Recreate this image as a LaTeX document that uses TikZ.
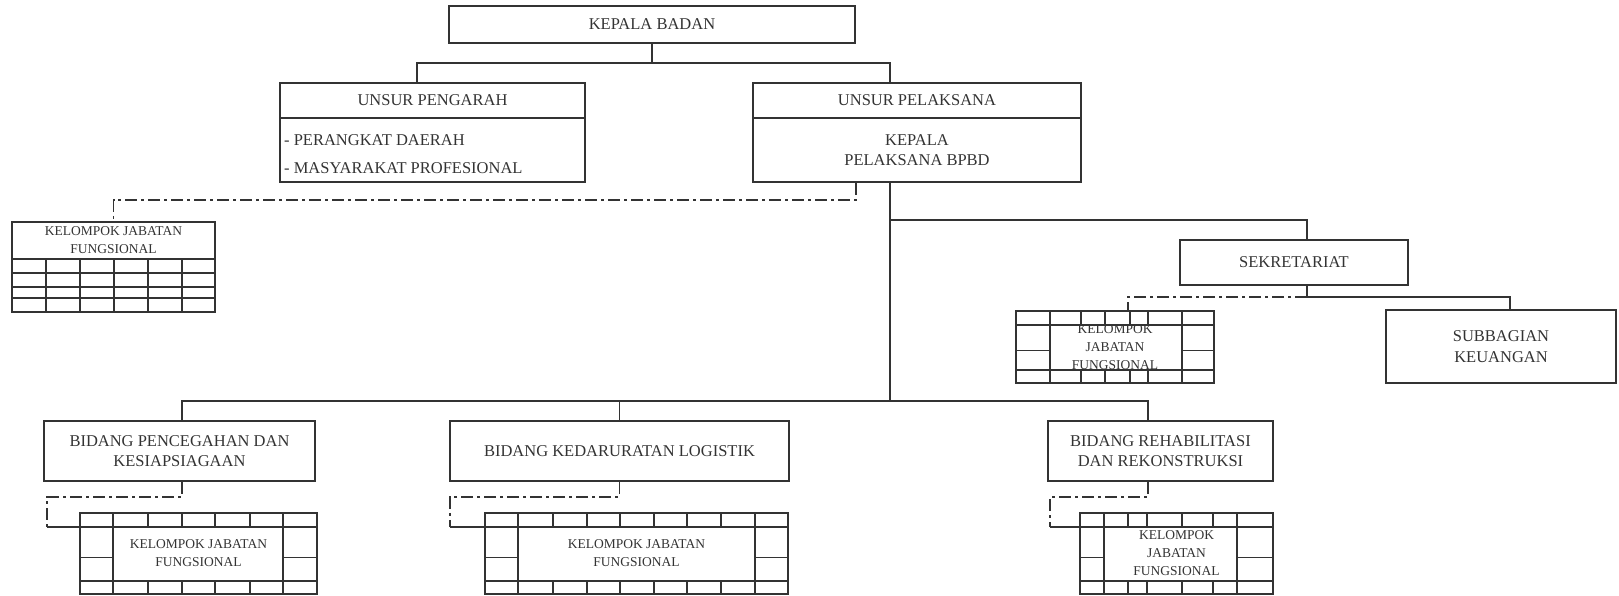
\documentclass[tikz,border=0pt]{standalone}
\usepackage{fontspec}
\setmainfont{Liberation Serif}
\usetikzlibrary{positioning}

\colorlet{ink}{black!80}

% KELOMPOK JABATAN FUNGSIONAL framed by a row of cells
% #1 left, #2 right, #3 top, #4 bottom, #5 inner left, #6 inner right,
% #7 cell lines of top and bottom rows, #8 node name, #9 text
\newcommand{\kjfgrid}[9]{%
  \pgfmathsetmacro{\kjfrowa}{#3+14}%
  \pgfmathsetmacro{\kjfrowb}{#4-13}%
  \pgfmathsetmacro{\kjfrowm}{\kjfrowb-0.43*(\kjfrowb-\kjfrowa)}%
  \draw[grid] (#1,-#3) rectangle (#2,-#4);
  \draw[grid] (#1,-\kjfrowa) -- (#2,-\kjfrowa) (#1,-\kjfrowb) -- (#2,-\kjfrowb);
  \draw[grid] (#5,-#3) -- (#5,-#4) (#6,-#3) -- (#6,-#4);
  \draw[grid] (#1,-\kjfrowm) -- (#5,-\kjfrowm) (#6,-\kjfrowm) -- (#2,-\kjfrowm);
  \foreach \cx in {#7}
    \draw[grid] (\cx,-#3) -- (\cx,-\kjfrowa) (\cx,-\kjfrowb) -- (\cx,-#4);
  \node[kjf, minimum width=#2-#1, minimum height=#4-#3] (#8)
    at ({(#1+#2)/2},{-(#3+#4)/2}) {#9};
}

\begin{document}
\begin{tikzpicture}[x=1pt, y=1pt,
    unit/.style={draw=ink, line width=2.8pt, inner sep=0pt, align=center,
      text=ink, font=\fontsize{16.5}{20.5}\selectfont},
    conn/.style={draw=ink, line width=1.5pt},
    dashconn/.style={draw=ink, line width=1.5pt, dash pattern=on 12pt off 4pt on 3pt off 4pt},
    grid/.style={draw=ink, line width=1.3pt},
    kjf/.style={inner sep=0pt, outer sep=0pt, align=center, text=ink,
      font=\fontsize{13.5}{18}\selectfont}]
  \useasboundingbox (0,0) rectangle (1619,-596);

  % kepala dan unsur
  \node[unit, minimum width=406, minimum height=37] (kb) at (652,-24.5) {KEPALA BADAN};
  \node[unit, minimum width=305, minimum height=35] (ug) at (432.5,-100.5) {UNSUR PENGARAH};
  \node[unit, minimum width=305, minimum height=64, below=-2.8pt of ug] (ugb) {};
  \node[anchor=north west, inner sep=0pt, align=left, text=ink, font=\fontsize{16.5}{28}\selectfont]
    (ugt) at ([xshift=5.4pt, yshift=-18.1pt]ugb.north west) {- PERANGKAT DAERAH\\- MASYARAKAT PROFESIONAL};
  \node[unit, minimum width=328, minimum height=35] (ul) at (917,-100.5) {UNSUR PELAKSANA};
  \node[unit, minimum width=328, minimum height=64, below=-2.8pt of ul] (ulb) {KEPALA\\PELAKSANA BPBD};

  \node[kjf, draw=ink, line width=1.3pt, minimum width=203, minimum height=37] (kjfa)
    at (113.5,-240.5) {KELOMPOK JABATAN\\FUNGSIONAL};
  \draw[grid] (kjfa.south west) rectangle (215,-312);
  \foreach \ry in {273,287,298} \draw[grid] (12,-\ry) -- (215,-\ry);
  \foreach \cx in {46,80,114,148,182} \draw[grid] (\cx,-259) -- (\cx,-312);

  % sekretariat
  \node[unit, minimum width=228, minimum height=45] (sk) at (1294,-262.5) {SEKRETARIAT};
  \node[unit, minimum width=230, minimum height=73] (sb) at (1501,-346.5) {SUBBAGIAN\\KEUANGAN};
  \kjfgrid{1016}{1214}{311}{383}{1050}{1182}{1081,1105,1130,1148}{kjfs}{KELOMPOK\\JABATAN\\FUNGSIONAL}

  % bidang
  \node[unit, minimum width=271, minimum height=60] (bp) at (179.5,-451) {BIDANG PENCEGAHAN DAN\\KESIAPSIAGAAN};
  \node[unit, minimum width=339, minimum height=60] (bk) at (619.5,-451) {BIDANG KEDARURATAN LOGISTIK};
  \node[unit, minimum width=225, minimum height=60] (br) at (1160.5,-451) {BIDANG REHABILITASI\\DAN REKONSTRUKSI};
  \kjfgrid{80}{317}{513}{594}{113}{283}{148,182,215,250}{kjfp}{KELOMPOK JABATAN\\FUNGSIONAL}
  \kjfgrid{485}{788}{513}{594}{518}{755}{553,587,620,654,687,721}{kjfk}{KELOMPOK JABATAN\\FUNGSIONAL}
  \kjfgrid{1080}{1273}{513}{594}{1104}{1237}{1128,1147,1182,1213}{kjfr}{KELOMPOK\\JABATAN\\FUNGSIONAL}

  % garis komando
  \draw[conn] (kb.south) -- ++(0,-18.6) -| ([xshift=-15.5pt]ug.north);
  \draw[conn] (kb.south) ++(0,-18.6) -| ([xshift=-27pt]ul.north);
  \coordinate (hub) at (890,-401);
  \draw[conn] ([xshift=-27pt]ulb.south) -- (hub);
  \draw[conn] ([xshift=-27pt]ulb.south) ++(0,-36.6) -| ([xshift=13pt]sk.north);
  \draw[conn] (hub) -| ([xshift=2.5pt]bp.north);
  \draw[conn] (hub) -| (bk.north);
  \draw[conn] (hub) -| ([xshift=-12.5pt]br.north);
  \draw[conn] ([xshift=13pt]sk.south) -- ++(0,-10.6) -| ([xshift=9pt]sb.north);

  % garis koordinasi
  \draw[dashconn] ([xshift=-61pt]ulb.south) -- ++(0,-16.6) -| (kjfa.north);
  \draw[dashconn] ([xshift=13pt]sk.south) ++(0,-10.6) -| ([xshift=13pt]kjfs.north);
  \draw[dashconn] ([xshift=2.5pt]bp.south) -- ++(0,-14.6) -| ([xshift=-33pt, yshift=-14pt]kjfp.north west);
  \draw[conn] ([xshift=-33pt, yshift=-14pt]kjfp.north west) -- ([yshift=-14pt]kjfp.north west);
  \draw[dashconn] (bk.south) -- ++(0,-14.6) -| ([xshift=-35pt, yshift=-14pt]kjfk.north west);
  \draw[conn] ([xshift=-35pt, yshift=-14pt]kjfk.north west) -- ([yshift=-14pt]kjfk.north west);
  \draw[dashconn] ([xshift=-12.5pt]br.south) -- ++(0,-14.6) -| ([xshift=-30pt, yshift=-14pt]kjfr.north west);
  \draw[conn] ([xshift=-30pt, yshift=-14pt]kjfr.north west) -- ([yshift=-14pt]kjfr.north west);
\end{tikzpicture}
\end{document}
